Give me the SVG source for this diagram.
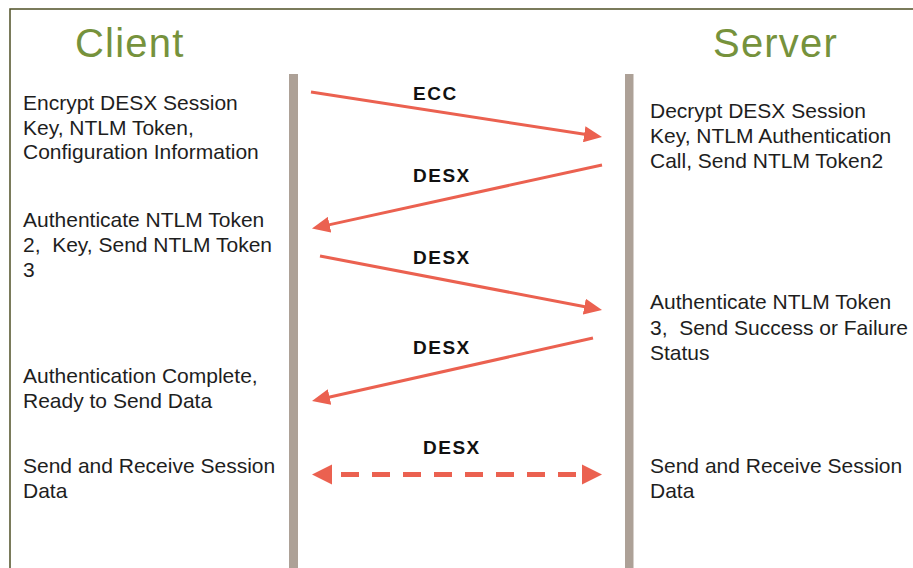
<svg xmlns="http://www.w3.org/2000/svg" width="913" height="568" viewBox="0 0 913 568">
  <style>
    .title { font-family: "Liberation Sans", Arial, sans-serif; font-size: 40px; fill: #76923C; letter-spacing: 1.2px; }
    .step { font-family: "Liberation Sans", Arial, sans-serif; font-size: 21px; fill: #1e1e1e; }
    .proto { font-family: "Liberation Sans", Arial, sans-serif; font-size: 19px; font-weight: bold; fill: #111; letter-spacing: 1.5px; }
    .lifeline { fill: #ADA197; }
    .msg { stroke: #EB6150; stroke-width: 3; fill: none; marker-end: url(#head); }
    .stream { stroke: #EB6150; stroke-width: 5; fill: none; stroke-dasharray: 18 13; stroke-dashoffset: 22; }
    .bighead { fill: #EB6150; }
  </style>
  <defs>
    <marker id="head" viewBox="0 0 18 16" refX="2" refY="8" markerWidth="18" markerHeight="16" markerUnits="userSpaceOnUse" orient="auto">
      <path d="M0,0 L18,8 L0,16 z" fill="#EB6150"/>
    </marker>
  </defs>

  <rect width="913" height="568" fill="#fff"/>
  <!-- outer frame, open to the right and bottom -->
  <rect x="10" y="9" width="930" height="600" fill="none" stroke="#4F5026" stroke-width="1.5"/>

  <g id="client">
    <text class="title" x="75" y="57">Client</text>
    <rect class="lifeline" x="289" y="74" width="9" height="500"/>
  </g>
  <g id="server">
    <text class="title" x="713" y="57">Server</text>
    <rect class="lifeline" x="625" y="74" width="8.5" height="500"/>
  </g>

  <g id="client-encrypt">
    <text class="step" x="23" y="110">Encrypt DESX Session</text>
    <text class="step" x="23" y="134.7">Key, NTLM Token,</text>
    <text class="step" x="23" y="159.4">Configuration Information</text>
  </g>
  <g id="server-decrypt">
    <text class="step" x="650" y="118">Decrypt DESX Session</text>
    <text class="step" x="650" y="143">Key, NTLM Authentication</text>
    <text class="step" x="650" y="168">Call, Send NTLM Token2</text>
  </g>
  <g id="client-auth">
    <text class="step" x="23" y="226.7">Authenticate NTLM Token</text>
    <text class="step" x="23" y="251.7">2,&#160; Key, Send NTLM Token</text>
    <text class="step" x="23" y="276.7">3</text>
  </g>
  <g id="server-auth">
    <text class="step" x="650" y="309">Authenticate NTLM Token</text>
    <text class="step" x="650" y="334.5">3,&#160; Send Success or Failure</text>
    <text class="step" x="650" y="360">Status</text>
  </g>
  <g id="client-complete">
    <text class="step" x="23" y="383">Authentication Complete,</text>
    <text class="step" x="23" y="408">Ready to Send Data</text>
  </g>
  <g id="client-data">
    <text class="step" x="23" y="473">Send and Receive Session</text>
    <text class="step" x="23" y="498">Data</text>
  </g>
  <g id="server-data">
    <text class="step" x="650" y="473">Send and Receive Session</text>
    <text class="step" x="650" y="498">Data</text>
  </g>

  <g id="connectors">
    <line class="msg" x1="311" y1="92" x2="586.2" y2="134.55"/>
    <text class="proto" x="413" y="100">ECC</text>

    <line class="msg" x1="602" y1="165" x2="327.6" y2="225.1"/>
    <text class="proto" x="413" y="182">DESX</text>

    <line class="msg" x1="320" y1="256" x2="586.3" y2="307"/>
    <text class="proto" x="413" y="264">DESX</text>

    <line class="msg" x1="593" y1="338" x2="327.6" y2="397.5"/>
    <text class="proto" x="413" y="354">DESX</text>

    <line class="stream" x1="332" y1="474.5" x2="582" y2="474.5"/>
    <path class="bighead" d="M312,474.5 L332,464.5 L332,484.5 z"/>
    <path class="bighead" d="M602,474.5 L582,464.5 L582,484.5 z"/>
    <text class="proto" x="423" y="454">DESX</text>
  </g>
</svg>
